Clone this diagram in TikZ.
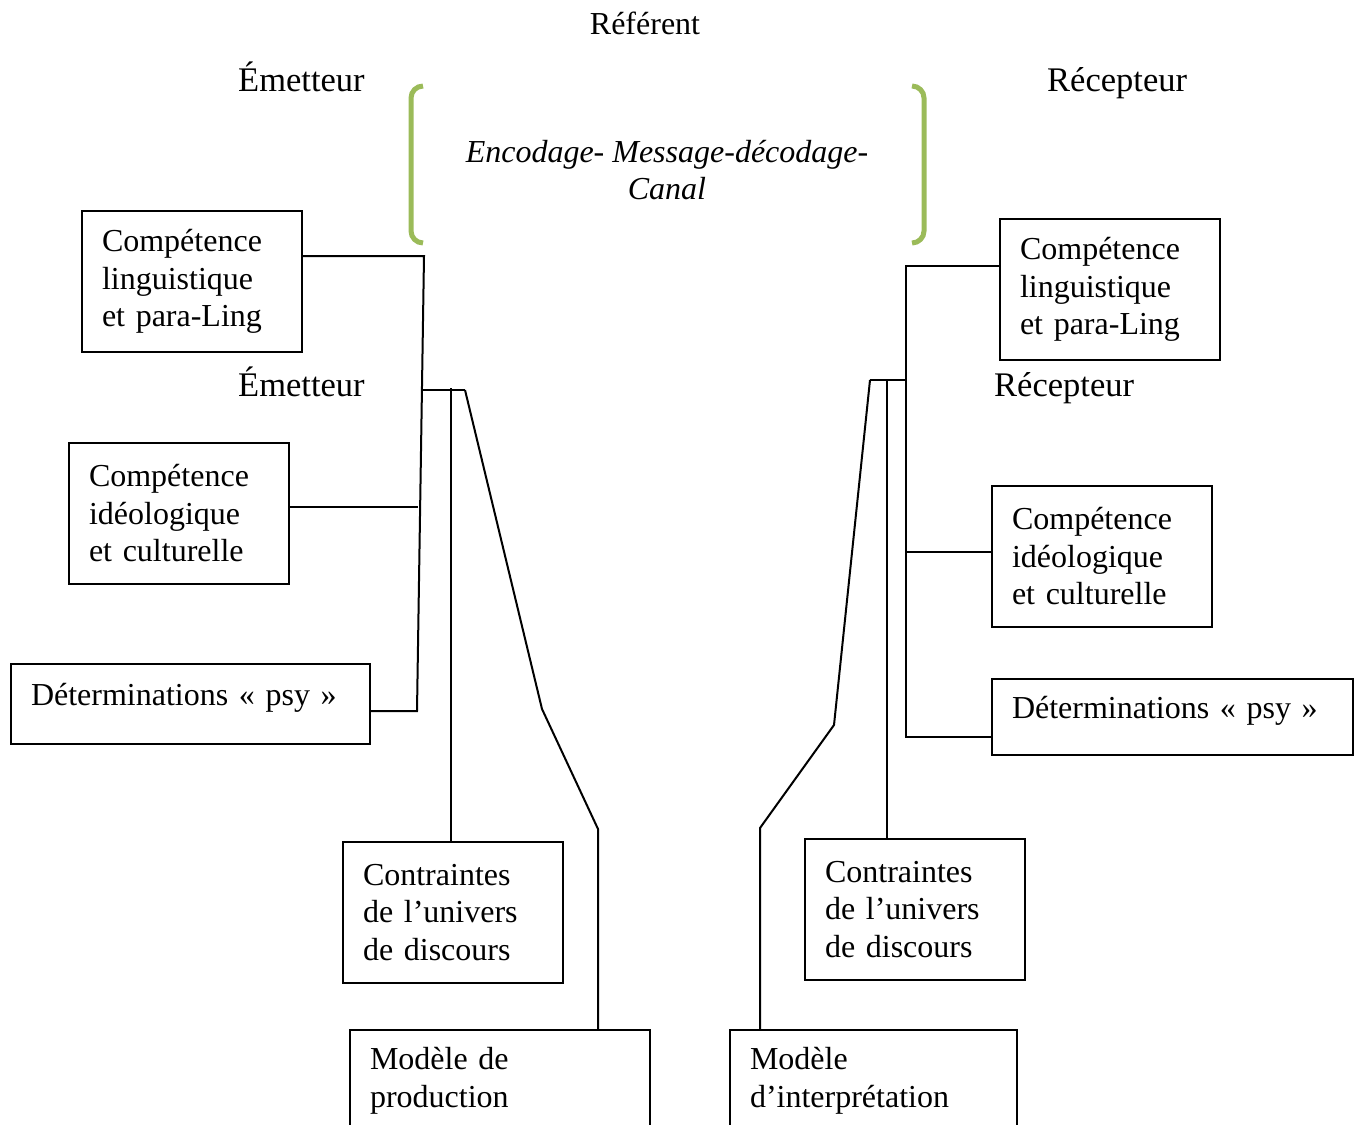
\documentclass[tikz,border=0pt]{standalone}
\usepackage{fontspec}
\setmainfont{Liberation Serif}
\definecolor{vertolive}{HTML}{9BBB59}
\tikzset{
	boite/.style={draw,line width=2pt,anchor=north west,align=left,inner xsep=20pt,inner ysep=0pt,text width=180pt,minimum height=141pt},
	boitepsy/.style={boite,minimum height=80pt,text depth=19pt},
	lien/.style={line width=2pt},
	titre/.style={font=\fontsize{34.5}{40}\selectfont,anchor=base west,inner sep=0pt},
	accolade/.style={vertolive,line width=5pt,rounded corners=12pt}
}
\begin{document}
\begin{tikzpicture}[x=1pt,y=-1pt,font=\fontsize{32}{37.5}\selectfont]
		\useasboundingbox (0,0) rectangle (1359,1124);
		\clip (0,0) rectangle (1359,1124);
		% en-tete
		\node[anchor=base,inner sep=0pt] (referent) at (645,35) {Référent};
		\node[titre] (emet) at (238,92) {Émetteur};
		\node[titre] (recep) at (1047,92) {Récepteur};
		\node[align=center,inner sep=0pt,font=\fontsize{32}{37}\selectfont\itshape] (canal) at (667,170) {Encodage- Message-décodage-\\Canal};
		\draw[accolade] (423,86) -- (411,86) -- (411,243) -- (423,243);
		\draw[accolade] (912,86) -- (924,86) -- (924,243) -- (912,243);
		% cote emetteur
		\node[boite] (lling) at (81,210) {Compétence\\linguistique\\et para-Ling};
		\node[titre] (emet2) at (238,396) {Émetteur};
		\node[boite] (lideo) at (68,442) {Compétence\\idéologique\\et culturelle};
		\node[boitepsy,text width=319pt] (lpsy) at (10,663) {Déterminations « psy »};
		\node[boite] (lcontr) at (342,841) {Contraintes\\de l’univers\\de discours};
		\node[boite,text width=260pt,minimum height=102pt] (lmod) at (349,1029) {Modèle de\\production};
		\coordinate (lh) at (424,256);
		\coordinate (lb) at (417,711);
		\coordinate (lmid) at (418,507);
		\coordinate (lnoeud) at (421,390);
		\coordinate (lpointe) at (465,390);
		\coordinate (ltige) at (451,388);
		\coordinate (lcoude) at (598,829);
		\draw[lien] (lling.east |- lh) -- (lh) -- (lb) -- (lpsy.east |- lb);
		\draw[lien] (lideo.east |- lmid) -- (lmid);
		\draw[lien] (lnoeud) -- (lpointe);
		\draw[lien] (ltige) -- (ltige |- lcontr.north);
		\draw[lien] (lpointe) -- (542,709) -- (lcoude) -- (lcoude |- lmod.north);
		% cote recepteur
		\node[boite] (rling) at (999,218) {Compétence\\linguistique\\et para-Ling};
		\node[titre] (recep2) at (994,396) {Récepteur};
		\node[boite] (rideo) at (991,485) {Compétence\\idéologique\\et culturelle};
		\node[boitepsy,text width=321pt,minimum height=76pt] (rpsy) at (991,678) {Déterminations « psy »};
		\node[boite] (rcontr) at (804,838) {Contraintes\\de l’univers\\de discours};
		\node[boite,text width=247pt,minimum height=102pt] (rmod) at (729,1029) {Modèle\\d’interprétation};
		\coordinate (rh) at (906,266);
		\coordinate (rb) at (906,737);
		\coordinate (rmid) at (906,552);
		\coordinate (rnoeud) at (870,380);
		\coordinate (rtige) at (887,380);
		\coordinate (rcoude) at (760,828);
		\draw[lien] (rling.west |- rh) -- (rh) -- (rb) -- (rpsy.west |- rb);
		\draw[lien] (rmid) -- (rideo.west |- rmid);
		\draw[lien] (rnoeud) -- (rnoeud -| rh);
		\draw[lien] (rtige) -- (rtige |- rcontr.north);
		\draw[lien] (rnoeud) -- (834,725) -- (rcoude) -- (rcoude |- rmod.north);
	\end{tikzpicture}
\end{document}
